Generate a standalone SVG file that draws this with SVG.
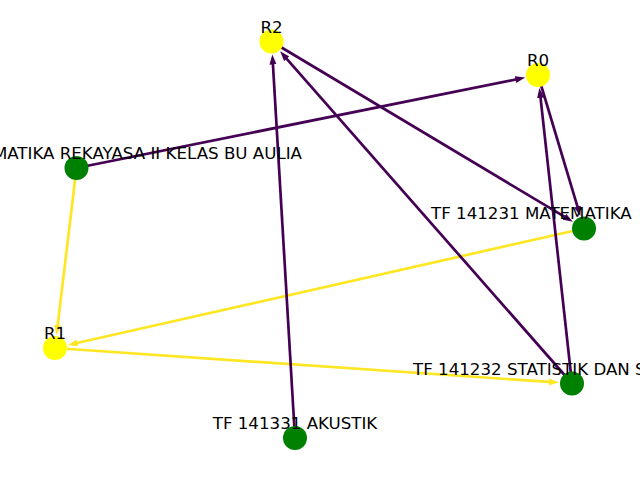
<svg xmlns="http://www.w3.org/2000/svg" width="640" height="480" viewBox="0 0 640 480">
<style>
.e{fill:none;stroke-width:2.7}
.p{stroke:#440154}
.y{stroke:#fde725}
.ny{fill:#ffff00}
.ng{fill:#008000}
text{font-family:"DejaVu Sans",sans-serif;font-size:16.67px;fill:#000}
</style>
<defs>
<marker id="ap" markerUnits="userSpaceOnUse" viewBox="0 0 10 8" markerWidth="10" markerHeight="8" refX="4" refY="4" orient="auto"><path d="M0,0.5 L10,4 L0,7.5 z" fill="#440154"/></marker>
<marker id="ay" markerUnits="userSpaceOnUse" viewBox="0 0 10 8" markerWidth="10" markerHeight="8" refX="4" refY="4" orient="auto"><path d="M0,0.5 L10,4 L0,7.5 z" fill="#fde725"/></marker>
</defs>
<rect width="640" height="480" fill="#fff"/>
<g id="edges">
<line class="e p" x1="76.5" y1="168" x2="519.4" y2="78.8" marker-end="url(#ap)"/>
<line class="e y" x1="76.5" y1="168" x2="57.2" y2="329.1" marker-end="url(#ay)"/>
<line class="e y" x1="584" y1="228.5" x2="73.6" y2="343.8" marker-end="url(#ay)"/>
<line class="e y" x1="55" y1="348" x2="553" y2="382.2" marker-end="url(#ay)"/>
<line class="e p" x1="538" y1="75" x2="578.6" y2="210.3" marker-end="url(#ap)"/>
<line class="e p" x1="572" y1="383.5" x2="540.1" y2="93.9" marker-end="url(#ap)"/>
<line class="e p" x1="271.5" y1="41.5" x2="567.7" y2="218.7" marker-end="url(#ap)"/>
<line class="e p" x1="572" y1="383.5" x2="284.1" y2="55.8" marker-end="url(#ap)"/>
<line class="e p" x1="295" y1="438" x2="272.7" y2="60.5" marker-end="url(#ap)"/>
</g>
<g id="R0"><circle class="ny" cx="538" cy="75" r="12"/><text x="538" y="66" text-anchor="middle">R0</text></g>
<g id="R1"><circle class="ny" cx="55" cy="348" r="12"/><text x="55" y="339" text-anchor="middle">R1</text></g>
<g id="R2"><circle class="ny" cx="271.5" cy="41.5" r="12"/><text x="271.5" y="32.5" text-anchor="middle">R2</text></g>
<g id="MR"><circle class="ng" cx="76.5" cy="168" r="12"/><text x="302" y="159" text-anchor="end">MATIKA REKAYASA II KELAS BU AULIA</text></g>
<g id="TF141231"><circle class="ng" cx="584" cy="228.5" r="12"/><text x="431" y="219">TF 141231 MATEMATIKA</text></g>
<g id="TF141232"><circle class="ng" cx="572" cy="383.5" r="12"/><text x="413" y="374.5">TF 141232 STATISTIK DAN S</text></g>
<g id="TF141331"><circle class="ng" cx="295" cy="438" r="12"/><text x="295" y="429" text-anchor="middle">TF 141331 AKUSTIK</text></g>
</svg>
